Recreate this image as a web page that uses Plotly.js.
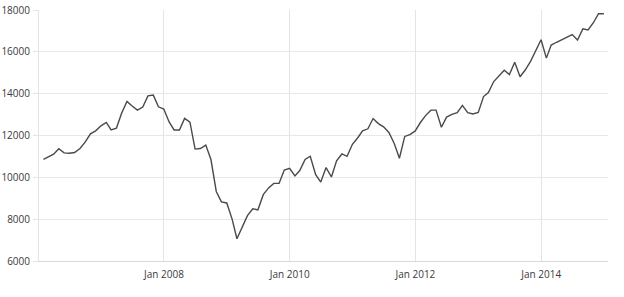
<!DOCTYPE html>
<html>
<head>
<meta charset="utf-8">
<script src="https://cdn.plot.ly/plotly-3.0.1.min.js"></script>
<style>html,body{margin:0;padding:0;background:#fff;}#chart{width:624px;height:297px;}</style>
</head>
<body>
<div id="chart"></div>
<script>
// Monthly closes, Jan 2006 .. Dec 2014 (plotted at month end)
const startYear = 2006;
const closes2006 = [10864, 10993, 11109, 11367, 11168, 11150, 11186, 11381, 11679, 12081, 12222, 12463];
const closes2007 = [12622, 12269, 12354, 13063, 13628, 13409, 13212, 13358, 13896, 13930, 13372, 13265];
const closes2008 = [12650, 12266, 12263, 12820, 12638, 11350, 11378, 11544, 10851, 9325, 8829, 8776];
const closes2009 = [8001, 7063, 7609, 8168, 8500, 8447, 9172, 9496, 9712, 9713, 10345, 10428];
const closes2010 = [10067, 10325, 10857, 11009, 10137, 9774, 10466, 10015, 10788, 11118, 11006, 11578];
const closes2011 = [11892, 12226, 12320, 12811, 12570, 12414, 12143, 11614, 10913, 11955, 12046, 12218];
const closes2012 = [12633, 12952, 13212, 13214, 12393, 12880, 13009, 13091, 13437, 13096, 13026, 13104];
const closes2013 = [13861, 14054, 14579, 14840, 15116, 14910, 15500, 14810, 15130, 15546, 16086, 16577];
const closes2014 = [15699, 16322, 16458, 16581, 16717, 16827, 16563, 17098, 17043, 17391, 17828, 17823];

const yTickVals = [6000, 8000, 10000, 12000, 14000, 16000, 18000];
const xTickVals = ['2008-01-01', '2010-01-01', '2012-01-01', '2014-01-01'];
const xTickText = ['Jan 2008', 'Jan 2010', 'Jan 2012', 'Jan 2014'];

const values = [].concat(closes2006, closes2007, closes2008, closes2009, closes2010,
                         closes2011, closes2012, closes2013, closes2014);
const dates = values.map((v, i) => {
  const y = startYear + Math.floor(i / 12);
  const m = i % 12 + 1;
  const last = new Date(Date.UTC(y, m, 0)).getUTCDate();
  return y + '-' + String(m).padStart(2, '0') + '-' + String(last).padStart(2, '0');
});

const trace = {
  x: dates, y: values, type: 'scatter', mode: 'lines',
  line: {color: '#4a4a4a', width: 1.4},
  hoverinfo: 'skip'
};

const font = {family: '"Open Sans", "DejaVu Sans", sans-serif', size: 10, color: '#3a3a3a'};

const layout = {
  width: 624, height: 297,
  margin: {l: 39, r: 16, t: 10, b: 36, pad: 0},
  paper_bgcolor: '#fff', plot_bgcolor: '#fff',
  showlegend: false,
  font: font,
  xaxis: {
    type: 'date',
    range: ['2006-01-05', '2015-01-24'],
    tickvals: xTickVals, ticktext: xTickText,
    showgrid: true, gridcolor: '#e4e4e4', gridwidth: 1,
    zeroline: false, showline: true, linecolor: '#d8d8d8', linewidth: 1,
    ticks: '', tickfont: font, ticklabelstandoff: 4
  },
  yaxis: {
    range: [6000, 18000],
    tickvals: yTickVals, ticktext: yTickVals.map(String),
    showgrid: true, gridcolor: '#e8e8e8', gridwidth: 1,
    zeroline: false, showline: true, linecolor: '#e4e4e4', linewidth: 1,
    ticks: 'outside', ticklen: 5, tickcolor: '#e4e4e4',
    tickfont: font, ticklabelstandoff: 1
  }
};

Plotly.newPlot('chart', [trace], layout, {displayModeBar: false, staticPlot: true});
</script>
</body>
</html>
